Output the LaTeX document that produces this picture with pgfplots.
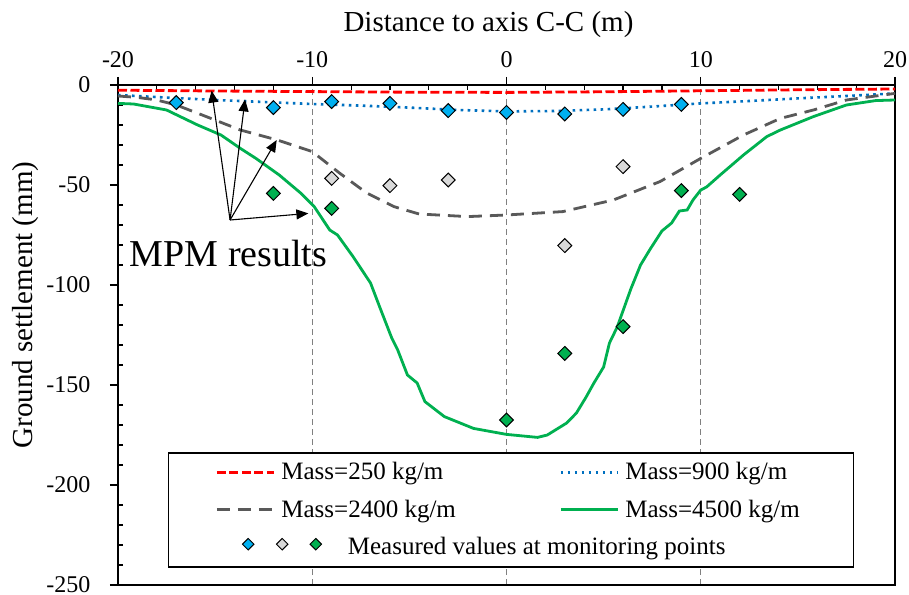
\documentclass[border=0pt]{standalone}
\usepackage{fontspec}
\setmainfont{Liberation Serif}
\usepackage{pgfplots}
\pgfplotsset{compat=1.18}
\usetikzlibrary{arrows.meta,calc}
\definecolor{cRed}{RGB}{255,0,0}
\definecolor{cBlueL}{RGB}{0,112,192}
\definecolor{cGrayL}{RGB}{89,89,89}
\definecolor{cGreen}{RGB}{0,176,80}
\definecolor{cBlueM}{RGB}{0,176,240}
\definecolor{cGrayM}{RGB}{217,217,217}
\tikzset{legdia/.style={rectangle, rotate=45, draw=black, line width=1pt, minimum width=8.1pt, minimum height=8.1pt, text height=0pt, text depth=0pt, inner sep=0pt}}
\begin{document}
\begin{tikzpicture}
\begin{axis}[name=ax, scale only axis, width=777pt, height=500pt,
 xmin=-20, xmax=20, ymin=-250, ymax=0,
 xtick={-20,-10,...,20}, ytick={-250,-200,...,0},
 minor x tick num=4, minor y tick num=4,
 xtick pos=right, xticklabel pos=right, ytick pos=left,
 tick align=outside, major tick length=8pt, minor tick length=-5pt,
 every tick/.style={black, line width=1.2pt},
 axis line style={line width=1.5pt},
 xmajorgrids, major grid style={gray, line width=0.9pt, dash pattern=on 6pt off 4pt},
 /pgf/number format/assume math mode=true,
 tick label style={font=\fontsize{24}{28}\selectfont},
 xticklabel style={yshift=5.5pt},
 yticklabel style={xshift=-16pt},
 label style={font=\fontsize{29}{34}\selectfont},
 xlabel={Distance to axis C-C (m)},
 ylabel={Ground settlement (mm)},
 xlabel style={at={(axis description cs:0.4768,1)}, anchor=base, yshift=53pt, inner sep=0pt},
 ylabel style={at={(axis description cs:-0.1364,0.56)}, anchor=north, inner sep=0pt},
 legend columns=2,
 legend cell align=left,
 legend style={at={(rel axis cs:0.0642,0.2654)}, anchor=north west, draw=black, line width=1.2pt, fill=white,
   font=\fontsize{25}{30}\selectfont, inner xsep=47pt, inner ysep=6pt, row sep=10.5pt,
   nodes={inner sep=2pt, text height=19pt, text depth=4pt}},
 legend image code/.code={\begin{scope}[#1]\pgfsetlinewidth{3.0pt}\draw (0pt,0pt) -- (57pt,0pt);\end{scope} \path (61pt,0pt);},
]
\addplot[cRed, line width=2.8pt, dash pattern=on 9pt off 3.5pt] coordinates {
(-20,-2.6) (-15,-3.0) (-10,-3.3) (-5,-3.6) (0,-3.7) (5,-3.4) (10,-2.9) (15,-2.4) (20,-2.0)};
\addlegendentry{\makebox[276pt][l]{Mass=250 kg/m}}
\addplot[cBlueL, line width=2.6pt, dash pattern=on 2.6pt off 4.4pt] coordinates {
(-20,-5) (-17.5,-6.3) (-15,-7.5) (-12.5,-8.5) (-10,-9.5) (-7.5,-10.3) (-5,-11.3) (-2.5,-12.5) (0,-13.2) (2.5,-13) (5,-12.2) (7.5,-10.8) (10,-9.2) (12.5,-8) (15,-6.7) (17.5,-5.5) (20,-4.2)};
\addlegendentry{\makebox[179pt][l]{Mass=900 kg/m}}
\addplot[cGrayL, line width=2.8pt, dash pattern=on 13pt off 8pt] coordinates {
(-20,-5.5) (-19,-6.2) (-18,-7.5) (-17,-10) (-15.8,-14.5) (-13.7,-22.5) (-11.8,-27.5) (-10,-33.3) (-8.6,-44) (-7.2,-54) (-5.8,-60.8) (-4.5,-64.5) (-2,-65.8) (0,-65) (2.9,-63.3) (5.5,-57.5) (7.9,-48.3) (10,-36.7) (12.2,-25) (14.1,-16.7) (15.8,-12.5) (17.5,-7.5) (20,-4.2)};
\addlegendentry{\makebox[276pt][l]{Mass=2400 kg/m}}
\addplot[cGreen, line width=2.8pt] coordinates {
(-20,-9.2) (-19.2,-9.5) (-17.5,-12.5) (-15.9,-20) (-14.7,-25) (-13.7,-31.7) (-12.9,-36.7) (-11.7,-45) (-10.6,-54) (-9.9,-60.8) (-9.1,-72.5) (-8.7,-75) (-7.9,-85.8) (-7.0,-99) (-6.5,-111.7) (-5.9,-126.7) (-5.6,-132.5) (-5.1,-145) (-4.6,-149) (-4.2,-158.3) (-3.2,-165.8) (-1.7,-171.7) (0,-174.7) (1.6,-176.2) (2.1,-175) (3.1,-169) (3.6,-164) (4.1,-156) (4.5,-149) (5.0,-141) (5.3,-129) (5.7,-121) (6.4,-102) (6.9,-90) (7.4,-82) (8.0,-73) (8.5,-69) (8.9,-63) (9.3,-62.5) (9.6,-57.5) (10,-52.5) (10.3,-51) (11.0,-45) (12.2,-35) (13.4,-25.8) (14.1,-22.5) (15.8,-15.8) (17.5,-10) (19,-7.8) (20,-7.5)};
\addlegendentry{\makebox[179pt][l]{Mass=4500 kg/m}}
\addlegendimage{legend image code/.code={
  \begin{scope}[overlay]
  \node[legdia, fill=cBlueM] at (28pt,0pt) {};
  \node[legdia, fill=cGrayM] at (62pt,0pt) {};
  \node[legdia, fill=cGreen] at (95.6pt,0pt) {};
  \end{scope}
  \path (0pt,0pt) (61pt,0pt);}}
\addlegendentry{\makebox[0pt][l]{\hspace{66.5pt}Measured values at monitoring points}}
\addplot[forget plot, only marks, mark=square*, mark size=4.9pt, mark options={rotate=45, draw=black, fill=cBlueM, line width=1pt}] coordinates {
(-17,-8.8) (-12,-11.3) (-9,-8.3) (-6,-9.2) (-3,-12.8) (0,-13.7) (3,-14.5) (6,-12.2) (9,-9.7)};
\addplot[forget plot, only marks, mark=square*, mark size=4.9pt, mark options={rotate=45, draw=black, fill=cGrayM, line width=1pt}] coordinates {
(-9,-46.7) (-6,-50.3) (-3,-47.5) (3,-80.3) (6,-40.8)};
\addplot[forget plot, only marks, mark=square*, mark size=4.9pt, mark options={rotate=45, draw=black, fill=cGreen, line width=1pt}] coordinates {
(-12,-54.2) (-9,-61.7) (0,-167.5) (3,-134.2) (6,-120.8) (9,-52.8) (12,-54.7)};
\node[anchor=base west, inner sep=0pt, font=\fontsize{38}{44}\selectfont] at (axis cs:-19.4,-90.8) {MPM results};
\draw[line width=1.1pt, -{Triangle[length=12pt,width=10pt]}] (axis cs:-14.23,-67.5) -- (axis cs:-15.18,-2.8);
\draw[line width=1.1pt, -{Triangle[length=12pt,width=10pt]}] (axis cs:-14.23,-67.5) -- (axis cs:-13.46,-7.2);
\draw[line width=1.1pt, -{Triangle[length=12pt,width=10pt]}] (axis cs:-14.23,-67.5) -- (axis cs:-11.83,-27.5);
\draw[line width=1.1pt, -{Triangle[length=12pt,width=10pt]}] (axis cs:-14.23,-67.5) -- (axis cs:-10.2,-64.2);
\end{axis}
\pgfresetboundingbox
\path ($(ax.south west)+(-118pt,-9pt)$) rectangle ($(ax.north east)+(14pt,85pt)$);
\end{tikzpicture}
\end{document}
